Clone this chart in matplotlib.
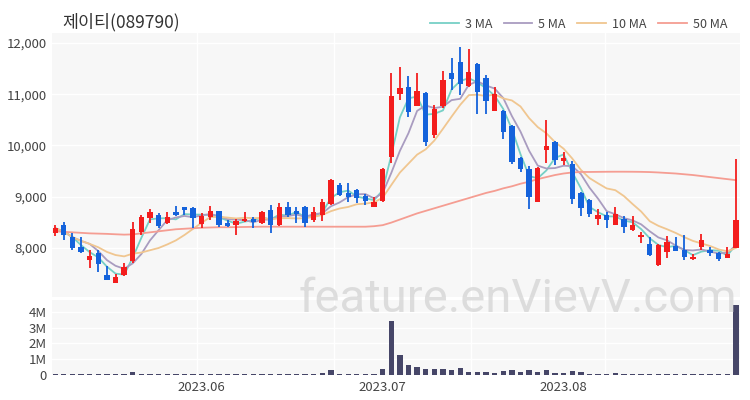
import matplotlib
matplotlib.use("Agg")
import matplotlib.pyplot as plt
import numpy as np
import pandas as pd

plt.rcParams['font.family'] = ['Noto Sans CJK KR', 'DejaVu Sans']

# trading days (KRX), 2023-05-08 .. 2023-08-30
holidays = ['2023-05-29', '2023-06-06', '2023-08-15']
dates = pd.bdate_range('2023-05-08', '2023-08-30')
dates = dates[~dates.isin(pd.to_datetime(holidays))]

opens = [8280, 8450, 8210, 8020, 7760, 7900, 7470, 7310, 7470, 7730,
         8310, 8580, 8640, 8490, 8690, 8790, 8780, 8470, 8590, 8710,
         8480, 8440, 8530, 8570, 8480, 8740, 8440, 8800, 8710, 8800,
         8540, 8640, 8855, 9230, 9060, 9130, 9010, 8800, 8920, 9780,
         11010, 11140, 10770, 11030, 10200, 10760, 11420, 11620, 11160, 11590,
         11310, 10680, 10680, 10380, 9760, 9530, 8900, 9900, 10060, 9690,
         9640, 9060, 8930, 8560, 8640, 8440, 8570, 8350, 8200, 8070,
         7660, 7920, 8030, 7950, 7780, 8020, 7950, 7900, 7790, 8000]
highs = [8440, 8500, 8290, 8200, 7950, 7960, 7640, 7480, 7710, 8510,
         8640, 8750, 8680, 8700, 8810, 8800, 8800, 8670, 8810, 8720,
         8540, 8560, 8690, 8600, 8720, 8830, 8870, 8900, 8790, 8810,
         8800, 8950, 9340, 9260, 9270, 9140, 9050, 8990, 9560, 11410,
         11540, 11350, 11420, 11040, 10790, 11460, 11700, 11920, 11880, 11600,
         11380, 11150, 10700, 10400, 9780, 9600, 9570, 10500, 10080, 9870,
         9690, 9080, 8950, 8750, 8690, 8800, 8610, 8610, 8310, 8200,
         8080, 8230, 8210, 8250, 7870, 8270, 8020, 7910, 8020, 9730]
lows = [8230, 8150, 7960, 7890, 7610, 7530, 7360, 7300, 7450, 7700,
        8250, 8480, 8380, 8460, 8610, 8640, 8380, 8380, 8550, 8410,
        8410, 8250, 8500, 8380, 8460, 8280, 8420, 8600, 8490, 8410,
        8510, 8530, 8830, 9010, 8900, 8870, 8840, 8800, 8900, 9650,
        10890, 10550, 10760, 9980, 10140, 10730, 11090, 10990, 11150, 10620,
        10620, 10670, 10120, 9640, 9470, 8750, 8890, 9650, 9620, 9620,
        8860, 8620, 8600, 8440, 8390, 8440, 8280, 8330, 8100, 7840,
        7640, 7790, 7940, 7750, 7760, 7960, 7840, 7730, 7790, 7990]
closes = [8380, 8250, 7990, 7910, 7840, 7680, 7370, 7430, 7620, 8370,
          8590, 8700, 8430, 8600, 8630, 8740, 8575, 8620, 8720, 8440,
          8430, 8530, 8570, 8510, 8700, 8440, 8800, 8640, 8660, 8480,
          8690, 8900, 9320, 9030, 9000, 8970, 8920, 8900, 9540, 10970,
          11130, 10660, 11070, 10070, 10710, 11270, 11300, 11200, 11440, 11050,
          10860, 11000, 10270, 9680, 9530, 8990, 9550, 9990, 9720, 9760,
          8950, 8780, 8660, 8640, 8540, 8650, 8400, 8440, 8250, 7860,
          8050, 8120, 7940, 7810, 7810, 8150, 7900, 7770, 7870, 8540]
volumes = [0.04, 0.05, 0.04, 0.04, 0.05, 0.05, 0.05, 0.05, 0.05, 0.21,
           0.08, 0.05, 0.05, 0.05, 0.05, 0.04, 0.04, 0.04, 0.04, 0.04,
           0.04, 0.04, 0.04, 0.04, 0.04, 0.04, 0.04, 0.04, 0.04, 0.04,
           0.05, 0.10, 0.30, 0.08, 0.05, 0.04, 0.04, 0.05, 0.36, 3.40,
           1.24, 0.61, 0.53, 0.40, 0.36, 0.36, 0.32, 0.42, 0.21, 0.19,
           0.19, 0.13, 0.25, 0.30, 0.19, 0.34, 0.19, 0.34, 0.10, 0.10,
           0.23, 0.21, 0.08, 0.06, 0.06, 0.12, 0.06, 0.05, 0.05, 0.05,
           0.05, 0.05, 0.04, 0.04, 0.04, 0.04, 0.04, 0.04, 0.04, 4.45]
ma50 = [8320, 8310, 8300, 8290, 8280, 8275, 8270, 8262, 8255, 8260,
        8280, 8300, 8320, 8340, 8360, 8370, 8380, 8390, 8395, 8400,
        8400, 8402, 8405, 8408, 8410, 8410, 8410, 8410, 8410, 8410,
        8410, 8410, 8410, 8410, 8410, 8410, 8410, 8420, 8440, 8490,
        8550, 8610, 8670, 8720, 8770, 8820, 8870, 8920, 8970, 9020,
        9070, 9110, 9160, 9200, 9250, 9290, 9340, 9380, 9420, 9450,
        9470, 9480, 9480, 9482, 9484, 9485, 9485, 9484, 9482, 9478,
        9470, 9460, 9450, 9435, 9420, 9400, 9380, 9360, 9340, 9320]

ma_windows = [3, 5, 10]
ma_colors = ['#76d0c6', '#a99cc0', '#f0c690', '#f59d92']
up_color = '#f31d1d'
down_color = '#1462db'
vol_color = '#464668'
bg = '#f7f7f7'

df = pd.DataFrame({'open': opens, 'high': highs, 'low': lows, 'close': closes,
                   'volume': np.array(volumes) * 1e6}, index=dates)
x = np.arange(len(df))

fig = plt.figure(figsize=(7.5, 4), dpi=100)
ax = fig.add_axes([0.069, 0.258, 0.918, 0.66])
axv = fig.add_axes([0.069, 0.0625, 0.918, 0.1875])

for a in (ax, axv):
    a.set_facecolor(bg)
    for s in a.spines.values():
        s.set_visible(False)
    a.tick_params(length=0, labelsize=9.5, colors='#444444')
    a.set_xlim(-0.4, len(df) - 0.5)
    for gx in [16.5, 32.3, 48.2, 63.8]:
        a.axvline(gx, color='white', lw=1.0, zorder=0)

# price grid
ax.set_ylim(7040, 12200)
ax.set_yticks([8000, 9000, 10000, 11000, 12000])
ax.set_yticklabels(['{:,}'.format(v) for v in [8000, 9000, 10000, 11000, 12000]])
ax.yaxis.grid(True, color='white', lw=1.0)
ax.set_axisbelow(True)
ax.set_xticks([])

# moving averages
handles = []
for w, c in zip(ma_windows, ma_colors):
    ma = df['close'].rolling(w, min_periods=1).mean()
    h, = ax.plot(x, ma, color=c, lw=1.3, zorder=2, label='%d MA' % w)
    handles.append(h)
h, = ax.plot(x, ma50, color=ma_colors[3], lw=1.3, zorder=2, label='50 MA')
handles.append(h)

# candles
up = df['close'] >= df['open']
cols = np.where(up, up_color, down_color)
ax.vlines(x, df['low'], df['high'], colors=cols, lw=1.3, zorder=3)
body_lo = np.minimum(df['open'], df['close'])
body_h = np.maximum(np.abs(df['close'] - df['open']), 15)
ax.bar(x, body_h, bottom=body_lo, width=0.62, color=cols, zorder=4)

# volume
axv.bar(x, df['volume'], width=0.62, color=vol_color, zorder=3)
axv.set_ylim(0, 4.75e6)
axv.set_yticks([0, 1e6, 2e6, 3e6, 4e6])
axv.set_yticklabels(['0', '1M', '2M', '3M', '4M'])
axv.yaxis.grid(True, color='white', lw=1.0)
axv.set_axisbelow(True)
month_idx = [i for i in range(1, len(dates)) if dates[i].month != dates[i - 1].month]
axv.set_xticks(month_idx)
axv.set_xticklabels([dates[i].strftime('%Y.%m') for i in month_idx])
axv.tick_params(axis='x', pad=4)

fig.text(0.083, 0.945, '제이티(089790)', fontsize=12.5, color='#333333', va='center')
fig.legend(handles=handles, loc='center right', bbox_to_anchor=(0.985, 0.94), ncol=4,
           frameon=False, fontsize=9, handlelength=2.3, handletextpad=0.5,
           columnspacing=0.9, labelcolor='#444444')

fig.text(0.691, 0.253, 'feature.enVievV.com', fontsize=34, color='#d4d4d4',
         alpha=0.75, ha='center', va='center', family=['Roboto', 'DejaVu Sans'])

fig.savefig('out.png', dpi=100)
